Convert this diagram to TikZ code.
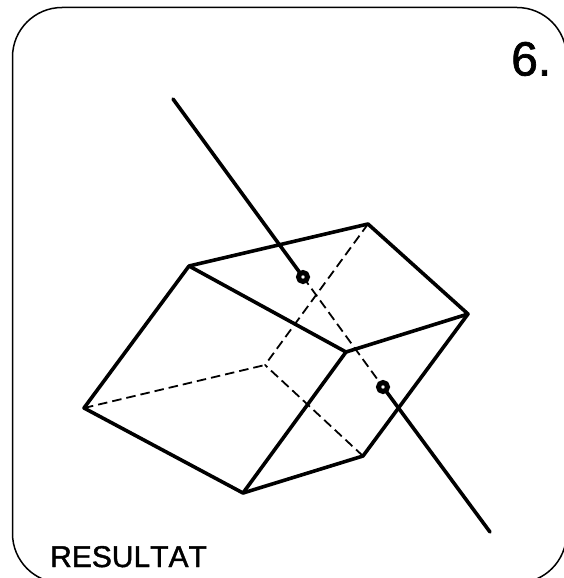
\documentclass[tikz,border=0pt]{standalone}
\usepackage{fontspec}
\setmainfont{Liberation Sans}
\newfontfamily\heavyfont[FakeBold=1.5,Kerning=Off]{Liberation Sans}
\tikzset{
  thinframe/.style={line width=1.5pt},
  solidedge/.style={line width=3.6pt,line cap=round,line join=round},
  hiddenedge/.style={line width=1.8pt,dash pattern=on 9.5pt off 5pt},
  piercemark/.style={circle,draw,line width=5pt,inner sep=0pt,minimum size=9pt,fill=white},
  label/.style={inner sep=0pt,anchor=base west}
}
\begin{document}
\begin{tikzpicture}[x=1pt,y=-1pt]
\useasboundingbox (0,0) rectangle (564,578);
\begin{scope}
\clip (0,0) rectangle (564,578);
\draw[thinframe,rounded corners=49.5pt] (300,7.5) -- (566.5,7.5) -- (566.5,583) -- (12.5,583) -- (12.5,7.5) -- cycle;
\end{scope}
\coordinate (A) at (84,408);
\coordinate (B) at (189,266);
\coordinate (C) at (346,352);
\coordinate (D) at (243,493);
\coordinate (E) at (368,224);
\coordinate (F) at (468,314);
\coordinate (G) at (363,456);
\coordinate (H) at (265,365);
\coordinate (P) at (173,99);
\coordinate (Q) at (490,532);
\coordinate (M) at (303,277);
\coordinate (N) at (383,387);
\draw[hiddenedge] (A) -- (H);
\draw[hiddenedge] (E) -- (H);
\draw[hiddenedge] (G) -- (H);
\draw[hiddenedge] (M) -- (N);
\draw[solidedge] (A) -- (B) -- (C) -- (D) -- cycle;
\draw[solidedge] (B) -- (E) -- (F) -- (C);
\draw[solidedge] (F) -- (G) -- (D);
\draw[solidedge] (P) -- (M);
\draw[solidedge] (N) -- (Q);
\node[piercemark] (m) at (M) {};
\node[piercemark] (n) at (N) {};
\node[label,font=\heavyfont\fontsize{48}{48}\selectfont] (six) at (511,75.5) {6.};
\node[label,font=\heavyfont\fontsize{30}{30}\selectfont] (res) at (50,567) {RESULTAT};
\end{tikzpicture}
\end{document}
